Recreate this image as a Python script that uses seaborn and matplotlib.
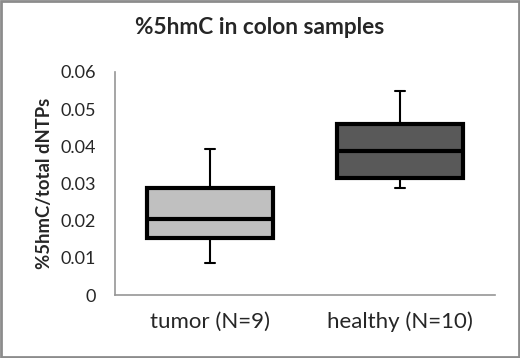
import matplotlib
matplotlib.use("Agg")
import matplotlib.pyplot as plt
import seaborn as sns
import pandas as pd
import numpy as np
from matplotlib.patches import Rectangle

# Five-number summaries (min, Q1, median, Q3, max)
categories = ["tumor (N=9)", "healthy (N=10)"]
tumor_stats = [0.0086, 0.0153, 0.0205, 0.0288, 0.0393]
healthy_stats = [0.0288, 0.0315, 0.0387, 0.0460, 0.0548]
box_colors = ["#c0c0c0", "#595959"]
yticks = [0, 0.01, 0.02, 0.03, 0.04, 0.05, 0.06]
ytick_labels = ["0", "0.01", "0.02", "0.03", "0.04", "0.05", "0.06"]

df = pd.DataFrame({
    "group": [categories[0]] * len(tumor_stats) + [categories[1]] * len(healthy_stats),
    "value": tumor_stats + healthy_stats,
})

sns.set_theme(style="white")
plt.rcParams["font.family"] = ["Lato", "DejaVu Sans"]

fig = plt.figure(figsize=(5.2, 3.58), dpi=100)
ax = fig.add_axes([115 / 520, 1 - 295 / 358, 380 / 520, 223 / 358])

sns.boxplot(data=df, x="group", y="value", hue="group", order=categories,
            hue_order=categories, palette=box_colors, saturation=1,
            whis=(0, 100), width=0.66, linecolor="black", legend=False,
            ax=ax,
            boxprops=dict(linewidth=3.0, edgecolor="black"),
            medianprops=dict(linewidth=3.0, color="black"),
            whiskerprops=dict(linewidth=1.5, color="black"),
            capprops=dict(linewidth=1.5, color="black"),
            showfliers=False)

# narrow the whisker caps
for line in ax.lines:
    xd = np.asarray(line.get_xdata(), dtype=float)
    yd = np.asarray(line.get_ydata(), dtype=float)
    if len(xd) == 2 and yd[0] == yd[1] and line.get_linewidth() < 2:
        c = xd.mean()
        line.set_xdata([c - 0.024, c + 0.024])

ax.set_ylim(0, 0.06)
ax.set_yticks(yticks)
ax.set_yticklabels(ytick_labels, fontsize=13)
ax.tick_params(axis="x", labelsize=16, length=0, pad=12)
ax.tick_params(axis="y", length=0, pad=14)
ax.set_xlabel("")
ax.set_ylabel("%5hmC/total dNTPs", fontsize=13.3, fontweight="bold", labelpad=5)
for side in ["top", "right"]:
    ax.spines[side].set_visible(False)
for side in ["left", "bottom"]:
    ax.spines[side].set_color("#969696")
    ax.spines[side].set_linewidth(1.2)

fig.suptitle("%5hmC in colon samples", fontsize=16.3, fontweight="bold", y=1 - 27 / 358, va="center")

fig.patches.append(Rectangle((0.002, 0.003), 0.996, 0.994, transform=fig.transFigure,
                             fill=False, edgecolor="#8c8c8c", linewidth=2))

fig.savefig("out.png", dpi=100)
